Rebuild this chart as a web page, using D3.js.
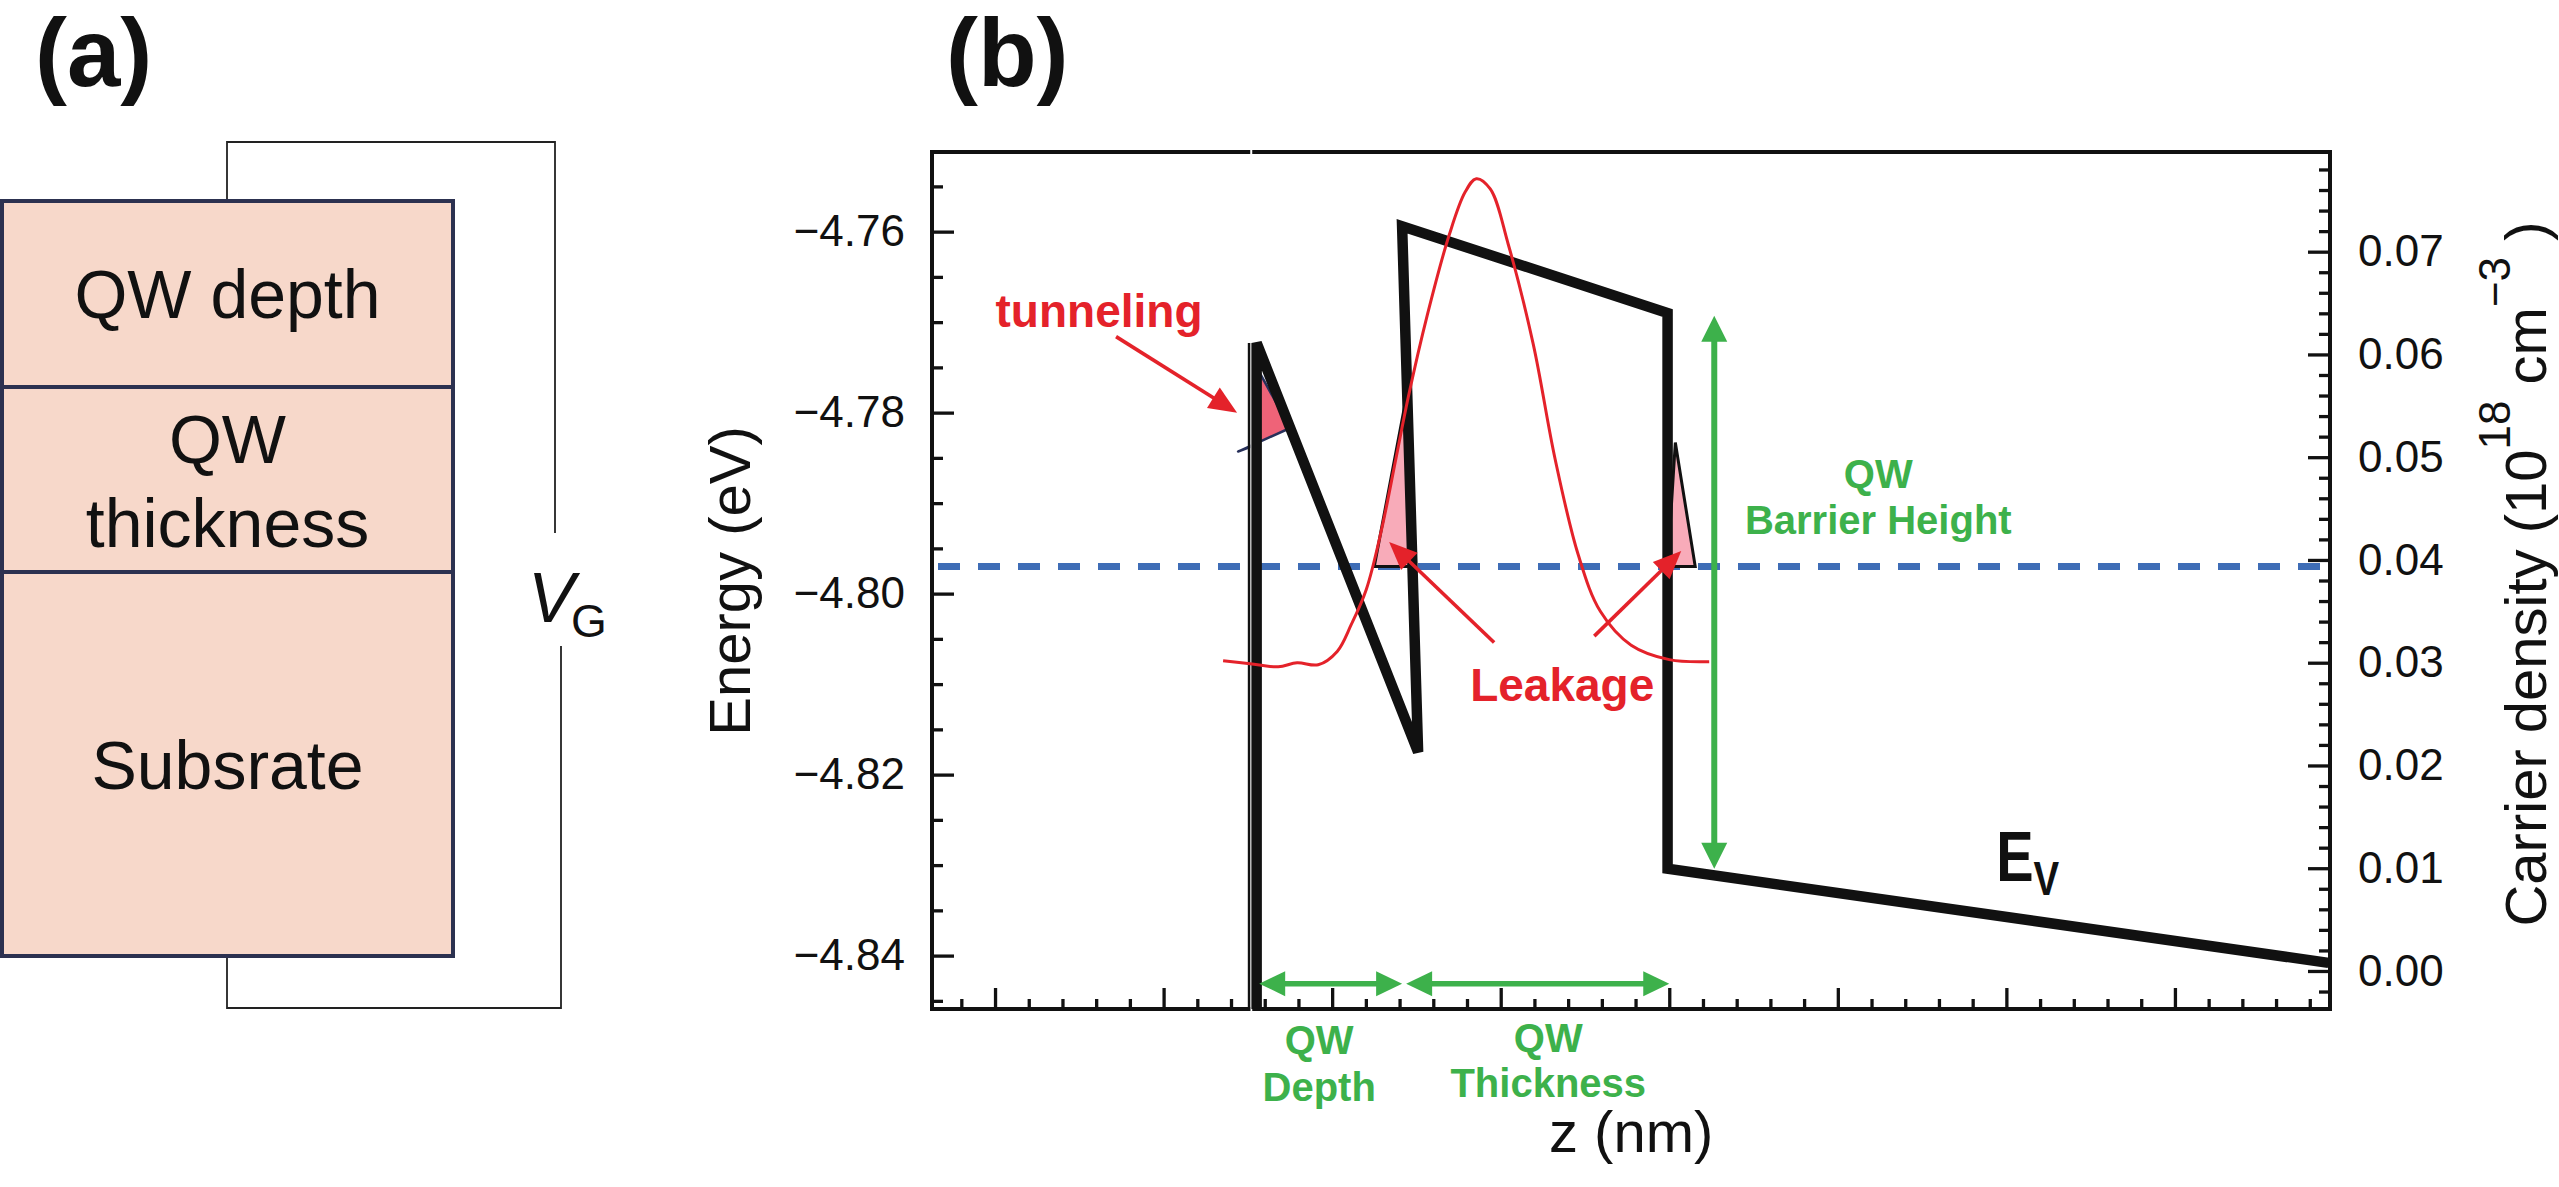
<!DOCTYPE html>
<html>
<head>
<meta charset="utf-8">
<script src="https://cdn.jsdelivr.net/npm/d3@7"></script>
<style>
  html, body { margin: 0; padding: 0; background: #fff; }
  svg { display: block; }
</style>
</head>
<body>
<div id="chart"></div>
<script>
// ---- panel (a): device stack ----
var layerNames = [["QW depth"], ["QW", "thickness"], ["Subsrate"]];
var layerSizes = [186, 185, 384];

// ---- panel (b): valence band edge, z (nm) vs E (eV) ----
var bandZ = [15.52, 15.52, 25.10, 24.15, 39.9, 39.9, 79.11];
var bandE = [-4.8459, -4.7723, -4.8175, -4.7594, -4.7690, -4.8304, -4.8408];

// carrier density (1e18 cm^-3), right axis
var densityZ = [13.53, 15.13, 16.80, 17.92, 19.17, 20.30, 21.13, 22.02, 22.91, 23.80, 24.51, 25.64,
                26.94, 27.89, 28.55, 29.38, 30.45, 31.93, 33.23, 34.60, 35.91, 37.74, 40.00, 42.37];
var densityN = [0.0302, 0.0299, 0.0296, 0.0300, 0.0298, 0.0311, 0.0337, 0.0371, 0.0428, 0.0500, 0.0558, 0.0638,
                0.0716, 0.0758, 0.0771, 0.0761, 0.0707, 0.0610, 0.0498, 0.0405, 0.0350, 0.0317, 0.0303, 0.0301];

var fermiE = -4.797;

// shaded leakage / tunnelling regions
var tunnelZ = [14.42, 15.55, 15.67, 17.51];
var tunnelE = [-4.7843, -4.7835, -4.7755, -4.7817];
var leakLeftZ = [22.50, 24.45, 24.75];
var leakLeftE = [-4.797, -4.7778, -4.797];
var leakRightZ = [39.90, 40.36, 41.54];
var leakRightE = [-4.797, -4.7833, -4.797];

// annotation arrows [z, E]
var tunnelArrow = [[7.18, -4.7716], [14.36, -4.7800]];
var leakArrows = [[[29.61, -4.8054], [23.38, -4.7943]], [[35.55, -4.8047], [40.71, -4.7953]]];
var depthArrowZ = [15.67, 24.15];
var thickArrowZ = [24.39, 40.00];
var widthArrowE = -4.8431;
var barrierArrowZ = 42.67;
var barrierArrowE = [-4.7693, -4.8304];

// ticks
var energyTicks = [-4.76, -4.78, -4.80, -4.82, -4.84];
var densityTicks = [0, 0.01, 0.02, 0.03, 0.04, 0.05, 0.06, 0.07];
var zTicks = [0, 10, 20, 30, 40, 50, 60, 70];
var energyMinor = d3.range(-969, -950).filter(function (i) { return i % 4 !== 0; }).map(function (i) { return i * 0.005; });
var densityMinor = d3.range(-1, 40).filter(function (i) { return i % 5 !== 0; }).map(function (i) { return i * 0.002; });
var zMinor = d3.range(-1, 40).filter(function (i) { return i % 5 !== 0; }).map(function (i) { return i * 2; });

var FONT = "'Liberation Sans', Arial, Helvetica, sans-serif";
var RED = "#e4222a", GREEN = "#3db14b", BLUE = "#3e6db6", INK = "#111";

var width = 2559, height = 1187;

var svg = d3.select("#chart").append("svg")
    .attr("width", width)
    .attr("height", height)
    .style("background-color", "#fff")
    .attr("font-family", FONT);

// ================= panel (a) =================
var pa = svg.append("g");
var boxX = 2, boxW = 451;
var yLayer = d3.scaleLinear().domain([0, d3.sum(layerSizes)]).range([201, 956]);
var cum = [0];
layerSizes.forEach(function (s, i) { cum.push(cum[i] + s); });

// wire
pa.append("path")
    .attr("d", "M227,201V142H555V533M561,646V1008H227V956")
    .attr("fill", "none")
    .attr("stroke", "#222")
    .attr("stroke-width", 1.8);

pa.selectAll("rect.layer")
    .data(layerSizes)
    .enter().append("rect")
    .attr("class", "layer")
    .attr("x", boxX)
    .attr("y", function (d, i) { return yLayer(cum[i]); })
    .attr("width", boxW)
    .attr("height", function (d) { return yLayer(d) - yLayer(0); })
    .attr("fill", "#f7d8ca")
    .attr("stroke", "#2c3150")
    .attr("stroke-width", 4);

var lineOffsets = [[24], [-17, 67], [25]];
layerNames.forEach(function (lines, i) {
    var mid = (yLayer(cum[i]) + yLayer(cum[i + 1])) / 2;
    lines.forEach(function (t, j) {
        pa.append("text")
            .attr("x", boxX + boxW / 2)
            .attr("y", mid + lineOffsets[i][j])
            .attr("text-anchor", "middle")
            .attr("font-size", 68)
            .attr("fill", INK)
            .text(t);
    });
});

pa.append("text").attr("x", 528).attr("y", 622).attr("fill", INK)
    .attr("font-size", 70).attr("font-style", "italic").text("V");
pa.append("text").attr("x", 571).attr("y", 637).attr("fill", INK)
    .attr("font-size", 46).text("G");

pa.append("text")
    .attr("x", 35).attr("y", 86)
    .attr("font-size", 96).attr("font-weight", "bold").attr("fill", INK)
    .text("(a)");

// ================= panel (b) =================
var x = d3.scaleLinear().domain([-3.74, 79.2]).range([932, 2330]);
var yE = d3.scaleLinear().domain([-4.8459, -4.7512]).range([1009, 152]);
var yN = d3.scaleLinear().domain([-0.0037, 0.0797]).range([1009, 152]);

var pb = svg.append("g");
var plotLeft = x.range()[0], plotRight = x.range()[1];
var plotBottom = yE.range()[0], plotTop = yE.range()[1];

pb.append("text")
    .attr("x", 946).attr("y", 86)
    .attr("font-size", 96).attr("font-weight", "bold").attr("fill", INK)
    .text("(b)");

function styleAxis(g, lw) {
    g.select(".domain").remove();
    g.selectAll(".tick line").attr("stroke", INK).attr("stroke-width", lw);
    g.selectAll(".tick text").attr("font-size", 44).attr("font-family", FONT).attr("fill", INK);
}

var fmt = d3.format(".2f");
pb.append("g").attr("transform", "translate(" + plotLeft + ",0)")
    .call(d3.axisLeft(yE).tickValues(energyTicks).tickSize(-22).tickPadding(27).tickFormat(fmt))
    .call(styleAxis, 3.3);
pb.append("g").attr("transform", "translate(" + plotLeft + ",0)")
    .call(d3.axisLeft(yE).tickValues(energyMinor).tickSize(-11).tickFormat(""))
    .call(styleAxis, 3.3);
pb.append("g").attr("transform", "translate(" + plotRight + ",0)")
    .call(d3.axisRight(yN).tickValues(densityTicks).tickSize(-22).tickPadding(28).tickFormat(fmt))
    .call(styleAxis, 3.3);
pb.append("g").attr("transform", "translate(" + plotRight + ",0)")
    .call(d3.axisRight(yN).tickValues(densityMinor).tickSize(-11).tickFormat(""))
    .call(styleAxis, 3.3);
pb.append("g").attr("transform", "translate(0," + plotBottom + ")")
    .call(d3.axisBottom(x).tickValues(zTicks).tickSize(-21).tickFormat(""))
    .call(styleAxis, 3.3);
pb.append("g").attr("transform", "translate(0," + plotBottom + ")")
    .call(d3.axisBottom(x).tickValues(zMinor).tickSize(-10).tickFormat(""))
    .call(styleAxis, 3.3);

pb.append("rect")
    .attr("x", plotLeft).attr("y", plotTop)
    .attr("width", plotRight - plotLeft).attr("height", plotBottom - plotTop)
    .attr("fill", "none").attr("stroke", INK).attr("stroke-width", 4);

// Fermi level
pb.append("line")
    .attr("x1", plotLeft + 6).attr("x2", plotRight)
    .attr("y1", yE(fermiE)).attr("y2", yE(fermiE))
    .attr("stroke", BLUE).attr("stroke-width", 7)
    .attr("stroke-dasharray", "22,18");

function poly(zs, es) {
    return zs.map(function (z, i) { return [x(z), yE(es[i])]; });
}
var closedLine = d3.line().curve(d3.curveLinearClosed);

pb.append("path").attr("d", closedLine(poly(tunnelZ, tunnelE)))
    .attr("fill", "#ef6378").attr("stroke", "#27305a").attr("stroke-width", 2.5)
    .attr("stroke-linejoin", "round");
pb.append("path").attr("d", closedLine(poly(leakLeftZ, leakLeftE)))
    .attr("fill", "#f8abb9").attr("stroke", INK).attr("stroke-width", 3);
pb.append("path").attr("d", closedLine(poly(leakRightZ, leakRightE)))
    .attr("fill", "#f8abb9").attr("stroke", INK).attr("stroke-width", 3);

// white split line through the frame and the thin companion line
pb.append("line")
    .attr("x1", x(15.2)).attr("x2", x(15.2))
    .attr("y1", plotTop - 4).attr("y2", plotBottom + 4)
    .attr("stroke", "#fff").attr("stroke-width", 2);
pb.append("line")
    .attr("x1", x(15.07)).attr("x2", x(15.07))
    .attr("y1", yE(bandE[1])).attr("y2", plotBottom + 2)
    .attr("stroke", INK).attr("stroke-width", 2.5);

// band edge
var bandLine = d3.line()
    .x(function (d) { return x(d[0]); })
    .y(function (d) { return yE(d[1]); });
pb.append("path")
    .attr("d", bandLine(bandZ.map(function (z, i) { return [z, bandE[i]]; })))
    .attr("fill", "none")
    .attr("stroke", INK)
    .attr("stroke-width", 10.5)
    .attr("stroke-linejoin", "miter")
    .attr("stroke-miterlimit", 3);

// carrier density
var densLine = d3.line()
    .curve(d3.curveCatmullRom)
    .x(function (d) { return x(d[0]); })
    .y(function (d) { return yN(d[1]); });
pb.append("path")
    .attr("d", densLine(densityZ.map(function (z, i) { return [z, densityN[i]]; })))
    .attr("fill", "none")
    .attr("stroke", RED)
    .attr("stroke-width", 3);

// arrows
function arrow(g, p0, p1, color, lw, headLen, headW, both) {
    var dx = p1[0] - p0[0], dy = p1[1] - p0[1], L = Math.hypot(dx, dy);
    var ux = dx / L, uy = dy / L, nx = -uy, ny = ux;
    var s0 = both ? [p0[0] + ux * headLen * 0.8, p0[1] + uy * headLen * 0.8] : p0;
    var s1 = [p1[0] - ux * headLen * 0.8, p1[1] - uy * headLen * 0.8];
    g.append("line")
        .attr("x1", s0[0]).attr("y1", s0[1]).attr("x2", s1[0]).attr("y2", s1[1])
        .attr("stroke", color).attr("stroke-width", lw);
    function head(tip, sx, sy) {
        var bx = tip[0] - sx * headLen, by = tip[1] - sy * headLen;
        var pts = [tip, [bx + nx * headW / 2, by + ny * headW / 2], [bx - nx * headW / 2, by - ny * headW / 2]];
        g.append("path").attr("d", closedLine(pts)).attr("fill", color);
    }
    head(p1, ux, uy);
    if (both) head(p0, -ux, -uy);
}
function pt(d) { return [x(d[0]), yE(d[1])]; }

arrow(pb, pt(tunnelArrow[0]), pt(tunnelArrow[1]), RED, 3.6, 28, 24, false);
leakArrows.forEach(function (a) { arrow(pb, pt(a[0]), pt(a[1]), RED, 3.6, 28, 24, false); });

arrow(pb, [x(depthArrowZ[0]), yE(widthArrowE)], [x(depthArrowZ[1]), yE(widthArrowE)], GREEN, 5.5, 26, 25, true);
arrow(pb, [x(thickArrowZ[0]), yE(widthArrowE)], [x(thickArrowZ[1]), yE(widthArrowE)], GREEN, 5.5, 26, 25, true);
arrow(pb, [x(barrierArrowZ), yE(barrierArrowE[0])], [x(barrierArrowZ), yE(barrierArrowE[1])], GREEN, 6, 26, 26, true);

// labels
function label(px, py, txt, size, color, anchor) {
    return pb.append("text")
        .attr("x", px).attr("y", py)
        .attr("text-anchor", anchor || "middle")
        .attr("font-size", size)
        .attr("font-weight", "bold")
        .attr("fill", color)
        .text(txt);
}
label(x(6.17), yE(-4.7705), "tunneling", 46, RED);
label(x(33.65), yE(-4.8119), "Leakage", 46, RED);
label(x(52.4), yE(-4.7883), "QW", 40, GREEN);
label(x(52.4), yE(-4.7934), "Barrier Height", 40, GREEN);
label(x(19.23), plotBottom + 45, "QW", 40, GREEN);
label(x(19.23), plotBottom + 92, "Depth", 40, GREEN);
label(x(32.82), plotBottom + 43, "QW", 40, GREEN);
label(x(32.82), plotBottom + 88, "Thickness", 40, GREEN);

var ev = pb.append("text")
    .attr("transform", "translate(" + x(59.4) + "," + yE(-4.8318) + ") scale(0.8,1)")
    .attr("font-size", 70).attr("font-weight", "bold").attr("fill", INK);
ev.append("tspan").text("E");
ev.append("tspan").attr("dy", 14).attr("font-size", 48).text("V");

// axis titles
pb.append("text")
    .attr("x", x(37.74)).attr("y", plotBottom + 143)
    .attr("text-anchor", "middle").attr("font-size", 58).attr("fill", INK)
    .text("z (nm)");

pb.append("text")
    .attr("transform", "translate(750,581) rotate(-90)")
    .attr("text-anchor", "middle").attr("font-size", 58).attr("fill", INK)
    .text("Energy (eV)");

var rl = pb.append("text")
    .attr("transform", "translate(2546,574) rotate(-90)")
    .attr("text-anchor", "middle").attr("font-size", 58).attr("fill", INK);
rl.append("tspan").text("Carrier density (10");
rl.append("tspan").attr("dy", -36).attr("font-size", 44).text("18");
rl.append("tspan").attr("dy", 36).text(" cm");
rl.append("tspan").attr("dy", -36).attr("font-size", 44).text("\u22123");
rl.append("tspan").attr("dy", 36).text(" )");
</script>
</body>
</html>
